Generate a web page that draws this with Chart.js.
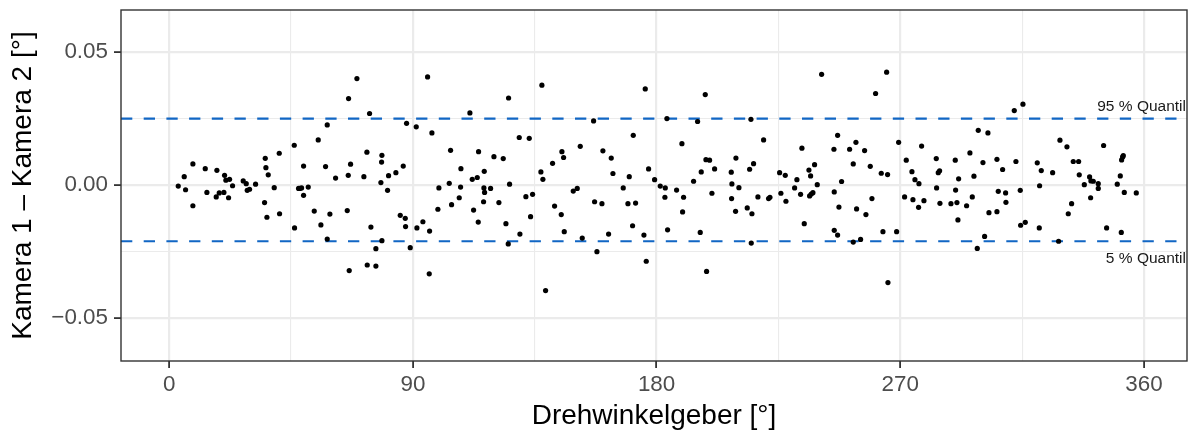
<!DOCTYPE html>
<html><head><meta charset="utf-8">
<script src="https://cdn.jsdelivr.net/npm/chart.js@4/dist/chart.umd.min.js"></script>
<style>html,body{margin:0;padding:0;background:#fff}canvas{display:block}</style>
</head><body>
<canvas id="c" width="1194" height="435"></canvas>
<script>
// Drehwinkelgeber [°]
const angle = [
3.34,5.55,6.05,8.75,8.75,13.31,13.92,17.62,17.37,18.48,20.2,20.45,20.94,22.3,21.93,23.4,27.34,28.45,28.82,29.68,31.9,35.47,35.72,36.58,35.22,36.09,38.79,40.64,40.76,46.18,46.3,47.78,48.27,48.89,49.63,49.63,51.35,53.57,55.04,56.03,
58.37,57.75,59.35,58.37,69.33,66.25,74.0,61.45,66.13,66.99,73.02,71.91,78.56,78.44,78.19,81.02,80.65,83.73,86.44,87.67,91.24,95.43,97.03,65.76,74.5,78.56,76.34,66.49,73.14,76.34,85.33,87.18,87.3,89.02,91.49,93.7,96.17,96.04,99.61,99.24,103.92,103.43,104.29,107.12,107.74,107.62,111.06,111.92,113.77,112.42,114.26,116.36,116.23,116.48,116.11,114.14,
118.7,119.93,121.77,123.37,125.34,125.71,124.36,125.22,129.28,129.53,132.98,131.74,134.21,133.47,137.65,137.28,138.02,139.01,141.59,142.33,144.8,145.04,145.66,145.9,149.23,150.7,151.81,152.55,156.74,157.11,157.97,159.82,160.18,163.26,163.88,162.28,167.69,169.42,169.91,171.39,172.25,171.14,175.82,177.05,175.33,176.19,179.27,
181.36,183.82,183.21,183.08,184.07,187.39,189.36,189.98,189.61,193.67,195.15,196.5,196.13,197.98,198.23,199.58,201.43,200.44,198.47,207.58,207.82,207.71,209.31,210.41,209.18,213.49,214.36,215.83,214.85,215.22,214.97,217.43,219.53,221.37,221.87,225.44,225.92,227.53,227.78,230.98,231.83,233.19,233.68,234.54,236.27,236.89,238.36,239.34,236.52,237.13,237.74,
240.95,246.86,245.5,248.33,245.62,247.35,245.62,246.86,251.29,253.63,252.64,256.83,258.92,253.87,252.64,255.35,257.32,259.54,260.89,264.96,262.98,265.32,263.6,265.45,268.65,269.39,271.6,272.22,274.31,274.68,275.42,276.9,276.77,277.88,278.74,283.3,284.03,284.53,283.42,284.65,288.72,290.32,290.44,290.93,291.55,291.3,294.5,295.73,296.6,297.21,298.81,300.54,298.44,301.15,
302.38,302.75,305.71,307.8,306.2,308.91,309.03,305.71,312.11,315.31,312.72,314.32,314.45,316.17,320.6,322.08,321.46,321.34,326.27,328.48,328.98,331.56,333.9,335.87,336.11,337.97,333.28,332.05,339.93,340.42,341.29,343.13,343.13,340.3,345.1,346.21,350.15,351.26,351.75,352.12,352.37,352.74,351.63,357.17
];
// Kamera 1 – Kamera 2 [°]
const diff = [
-0.0004,0.0031,-0.0018,0.0079,-0.0078,0.0061,-0.0028,0.0055,-0.0045,-0.003,-0.0028,0.0036,0.0018,0.0021,-0.0048,-0.0003,0.0015,0.0005,-0.002,-0.0016,0.0003,0.01,0.0065,0.0038,-0.0066,-0.0121,-0.001,0.0119,-0.0108,0.0149,-0.0161,-0.0013,-0.0013,-0.0011,0.0071,-0.0039,-0.0008,-0.0098,0.0169,-0.015,
0.0225,0.0069,-0.0109,-0.0203,0.0399,0.0324,0.0268,0.0026,0.0036,0.0078,0.0123,0.0031,0.0111,0.0086,0.0009,0.0035,-0.002,0.0046,0.0071,0.0231,0.0218,0.0405,0.0195,-0.0096,-0.0158,-0.0209,-0.0239,-0.0321,-0.03,-0.0304,-0.0114,-0.0125,-0.0156,-0.0235,-0.0161,-0.0138,-0.0173,-0.0333,-0.0011,-0.0091,0.013,0.0006,-0.0074,-0.0048,0.0061,-0.0008,0.027,0.0021,0.0028,-0.0094,0.0125,0.0051,-0.0011,-0.0028,-0.0063,-0.0139,
-0.0013,0.0106,-0.0066,0.0099,0.0326,0.0003,-0.0145,-0.0221,0.0178,-0.0184,0.0175,-0.0044,-0.0035,-0.0119,0.0374,0.0049,0.0021,-0.0396,0.0081,-0.0079,-0.0111,0.0125,0.0103,-0.0175,-0.0023,-0.0013,0.0145,-0.0199,0.024,-0.0063,-0.025,-0.007,0.0128,0.0101,0.0043,-0.0184,-0.0011,-0.007,0.0031,0.0186,-0.0068,-0.0153,0.036,0.006,-0.0188,-0.0286,0.002,
-0.0004,0.0249,-0.0011,-0.0046,-0.0168,-0.0019,0.0155,-0.0046,-0.0101,0.0014,0.0238,0.0049,-0.0178,0.0339,0.0095,0.0093,0.006,-0.0031,-0.0324,0.0048,0.0004,-0.0051,0.0101,-0.001,-0.0099,-0.0086,0.0059,0.008,0.0246,-0.0108,-0.0218,-0.0045,0.0169,-0.0051,-0.0046,0.0046,-0.0031,0.0036,-0.0061,-0.0011,0.002,-0.0035,0.0138,-0.0145,0.0056,0.0034,0.0076,0.0001,-0.0041,-0.0034,-0.0029,
0.0415,0.0186,0.0134,0.0013,-0.0026,-0.0083,-0.017,-0.0188,0.0134,0.016,0.0079,0.0129,0.007,-0.009,-0.0214,-0.0204,-0.0111,-0.0051,0.0343,0.0423,0.0044,0.0039,-0.0175,-0.0366,-0.0175,0.016,-0.0045,0.0093,0.005,-0.0055,0.002,0.0005,-0.0084,0.0146,-0.0059,0.0099,0.0046,0.0053,-0.0011,-0.0069,-0.007,0.0093,-0.0019,-0.0066,0.0023,-0.0131,-0.0078,0.012,-0.0045,0.0033,0.0205,0.0084,-0.0238,-0.0193,
0.0195,-0.0104,0.0096,0.0058,-0.0024,-0.003,-0.0065,-0.01,0.0279,0.0303,0.0088,-0.002,-0.0151,-0.014,0.0083,0.0054,-0.0003,-0.0161,0.0046,-0.0211,0.0168,0.0143,0.0088,0.0088,0.0038,0.0001,-0.007,-0.0108,0.003,0.0015,0.0014,0.0005,-0.0013,-0.0048,0.0148,-0.0161,0.0003,0.0034,0.0094,0.0105,0.011,-0.0028,-0.0178,-0.003
];
const quantileValues = [0.0249, -0.0211];
const quantileLabels = ['95 % Quantil', '5 % Quantil'];
const xTickValues = [0, 45, 90, 135, 180, 225, 270, 315, 360];
const xTickLabels = ['0', '', '90', '', '180', '', '270', '', '360'];
const yTickValues = [-0.05, -0.025, 0, 0.025, 0.05];
const yTickLabels = ['\u22120.05', '', '0.00', '', '0.05'];
const xRange = [-17.8, 375.9];
const yRange = [-0.0660, 0.0656];

Chart.defaults.font.family = "'Liberation Sans', Arial, Helvetica, sans-serif";

const points = angle.map((a, i) => ({x: a, y: diff[i]}));
const lineSets = quantileValues.map(q => ({
  data: [{x: xRange[0], y: q}, {x: xRange[1], y: q}],
  showLine: true, borderColor: '#1166C4', borderWidth: 2.2,
  borderDash: [11.3, 11.4], borderCapStyle: 'butt', pointRadius: 0, fill: false
}));

const framePlugin = {
  id: 'frame',
  afterDatasetsDraw(chart) {
    const {ctx, chartArea: a, scales: {y}} = chart;
    ctx.save();
    ctx.fillStyle = '#1a1a1a';
    ctx.font = "15.5px 'Liberation Sans', Arial, sans-serif";
    ctx.textAlign = 'right';
    ctx.textBaseline = 'alphabetic';
    ctx.fillText(quantileLabels[0], a.right - 1, y.getPixelForValue(quantileValues[0]) - 8);
    ctx.fillText(quantileLabels[1], a.right - 1, y.getPixelForValue(quantileValues[1]) + 21.5);
    ctx.strokeStyle = '#333333';
    ctx.lineWidth = 1.4;
    ctx.strokeRect(a.left, a.top, a.right - a.left, a.bottom - a.top);
    ctx.restore();
  }
};

new Chart(document.getElementById('c'), {
  type: 'scatter',
  data: {
    datasets: [
      {data: points, pointRadius: 2.6, pointBackgroundColor: '#000', pointBorderWidth: 0, pointHoverRadius: 2.6},
      ...lineSets
    ]
  },
  options: {
    responsive: false, animation: false, devicePixelRatio: 1,
    layout: {padding: {top: 10, right: 7, left: 0, bottom: 0}},
    plugins: {legend: {display: false}, tooltip: {enabled: false}},
    scales: {
      x: {
        type: 'linear', position: 'bottom', min: xRange[0], max: xRange[1],
        afterBuildTicks: s => { s.ticks = xTickValues.map(v => ({value: v})); },
        afterFit: s => { s.height = 74; s.paddingLeft = 0; s.paddingRight = 0; s.paddingTop = 0; s.paddingBottom = 0; },
        ticks: {callback: (v, i) => xTickLabels[i], color: '#4D4D4D', font: {size: 22.4}, padding: 3, maxRotation: 0, autoSkip: false},
        grid: {
          color: '#EBEBEB',
          lineWidth: c => xTickLabels[c.index] ? 2.2 : 1.1,
          tickColor: c => xTickLabels[c.index] ? '#333333' : 'rgba(0,0,0,0)',
          tickLength: 7, tickWidth: 1.8
        },
        border: {display: false},
        title: {display: true, text: 'Drehwinkelgeber [°]', color: '#000', font: {size: 28}, padding: {top: 0, bottom: 1.5}}
      },
      y: {
        type: 'linear', position: 'left', min: yRange[0], max: yRange[1],
        afterBuildTicks: s => { s.ticks = yTickValues.map(v => ({value: v})); },
        afterFit: s => { s.width = 121; s.paddingLeft = 0; s.paddingRight = 0; s.paddingTop = 0; s.paddingBottom = 0; },
        ticks: {callback: (v, i) => yTickLabels[i], color: '#4D4D4D', font: {size: 22.4}, padding: 6, autoSkip: false},
        grid: {
          color: '#EBEBEB',
          lineWidth: c => yTickLabels[c.index] ? 2.2 : 1.1,
          tickColor: c => yTickLabels[c.index] ? '#333333' : 'rgba(0,0,0,0)',
          tickLength: 7, tickWidth: 1.8
        },
        border: {display: false},
        title: {display: true, text: 'Kamera 1 \u2013 Kamera 2 [°]', color: '#000', font: {size: 28}, padding: {top: 6, bottom: 0}}
      }
    }
  },
  plugins: [framePlugin]
});
</script>
</body></html>
